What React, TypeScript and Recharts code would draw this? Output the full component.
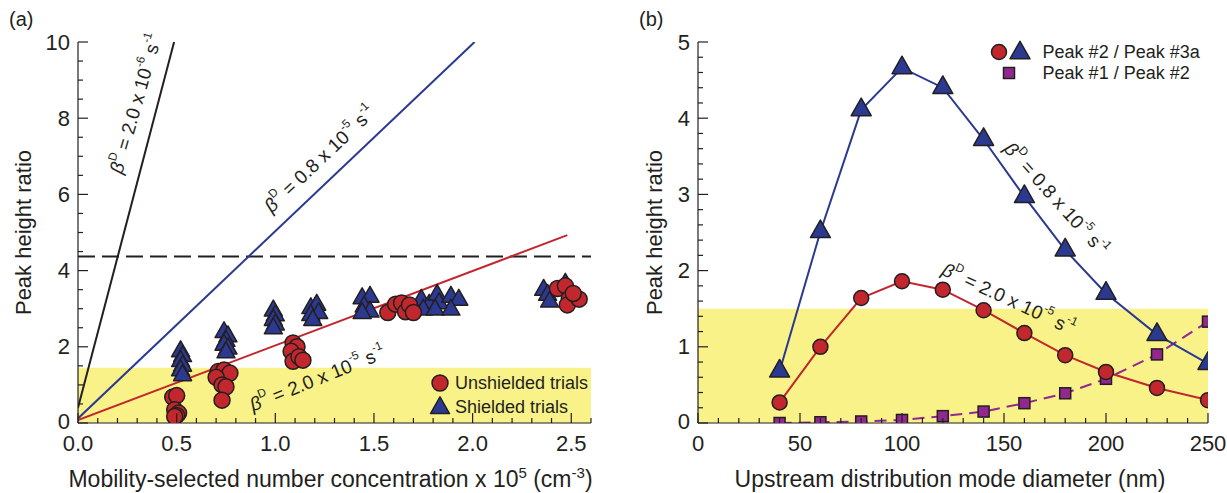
import React from 'react';
import {
  ComposedChart,
  Line,
  Scatter,
  XAxis,
  YAxis,
  ReferenceArea,
  ReferenceLine,
  ReferenceDot,
  Legend,
  Label,
} from 'recharts';

// ---------------- Panel (a) data ----------------
const unshieldedX = [
  0.48, 0.5, 0.49, 0.51, 0.5, 0.49,
  0.71, 0.74, 0.77, 0.7, 0.73, 0.75, 0.73,
  1.09, 1.11, 1.08, 1.09, 1.12, 1.14,
  1.57, 1.61, 1.64, 1.66, 1.68, 1.7,
  2.43, 2.47, 2.49, 2.48, 2.54, 2.51,
];
const unshieldedY = [
  0.68, 0.72, 0.35, 0.26, 0.2, 0.17,
  1.35, 1.39, 1.31, 1.2, 1.0, 0.95, 0.6,
  2.1, 2.0, 1.88, 1.62, 1.74, 1.65,
  2.9, 3.12, 3.15, 2.92, 3.1, 2.9,
  3.53, 3.6, 3.27, 3.1, 3.25, 3.4,
];
const shieldedX = [
  0.52, 0.53, 0.52, 0.53, 0.52, 0.53,
  0.74, 0.76, 0.75, 0.74, 0.76, 0.75,
  0.99, 1.0, 0.99, 1.0, 0.99,
  1.18, 1.21, 1.18, 1.22, 1.19,
  1.44, 1.48, 1.45, 1.48, 1.44,
  1.74, 1.78, 1.75, 1.82, 1.83, 1.81, 1.89, 1.93, 1.89,
  2.36, 2.38, 2.39, 2.47,
];
const shieldedY = [
  1.88, 1.75, 1.62, 1.5, 1.38, 1.25,
  2.38, 2.27, 2.15, 2.05, 1.95, 1.85,
  2.95, 2.82, 2.7, 2.58, 2.48,
  3.01, 3.1, 2.83, 2.88, 2.7,
  3.27, 3.31, 3.05, 2.92, 2.88,
  3.23, 3.1, 2.97, 3.36, 3.14, 2.97, 3.31, 3.23, 2.97,
  3.49, 3.36, 3.18, 3.65,
];
const beta2e6X = [0, 0.487];
const beta2e6Y = [0.4, 10];
const beta08e5X = [0, 2.01];
const beta08e5Y = [0.12, 10];
const beta2e5X = [0, 2.48];
const beta2e5Y = [0.08, 4.93];
const thresholdA = 4.37;
const bandTopA = 1.45;
const xMajorA = [0, 0.5, 1, 1.5, 2, 2.5];
const yMajorA = [0, 2, 4, 6, 8, 10];

// ---------------- Panel (b) data ----------------
const diameters = [40, 60, 80, 100, 120, 140, 160, 180, 200, 225, 250];
const ratioCircles = [0.27, 1.0, 1.64, 1.86, 1.75, 1.48, 1.18, 0.89, 0.67, 0.46, 0.3];
const ratioTriangles = [0.68, 2.51, 4.11, 4.66, 4.4, 3.72, 2.97, 2.27, 1.7, 1.16, 0.78];
const ratioSquares = [0.0, 0.01, 0.02, 0.04, 0.09, 0.15, 0.26, 0.39, 0.58, 0.9, 1.33];
const bandTopB = 1.5;
const xMajorB = [0, 50, 100, 150, 200, 250];
const yMajorB = [0, 1, 2, 3, 4, 5];

// ---------------- styles ----------------
const FONT = '"Liberation Sans", Arial, Helvetica, sans-serif';
const INK = '#231f20';
const RED = '#c1272d';
const BLUE = '#2b3990';
const PURPLE = '#92278f';
const YELLOW = '#f8f288';

const range = (start: number, end: number, step: number) => {
  const n = Math.round((end - start) / step);
  return Array.from({ length: n + 1 }, (_, i) => +(start + i * step).toFixed(4));
};

const toPts = (xs: number[], ys: number[]) => xs.map((x, i) => ({ x, y: ys[i] }));

const unshielded = toPts(unshieldedX, unshieldedY);
const shielded = toPts(shieldedX, shieldedY);
const line2e6 = toPts(beta2e6X, beta2e6Y);
const line08e5 = toPts(beta08e5X, beta08e5Y);
const line2e5 = toPts(beta2e5X, beta2e5Y);

const dataB = diameters.map((d, i) => ({
  d,
  circ: ratioCircles[i],
  tri: ratioTriangles[i],
  sq: ratioSquares[i],
}));

// ---------------- markers ----------------
const Circ = ({ cx, cy, r = 7.5 }: any) => (
  <circle cx={cx} cy={cy} r={r} fill={RED} stroke={INK} strokeWidth={1.5} />
);
const Tri = ({ cx, cy, w = 18 }: any) => {
  const h = w * 0.88;
  return (
    <polygon
      points={`${cx},${cy - (2 * h) / 3} ${cx + w / 2},${cy + h / 3} ${cx - w / 2},${cy + h / 3}`}
      fill={BLUE}
      stroke={INK}
      strokeWidth={1.5}
      strokeLinejoin="round"
    />
  );
};
const Sq = ({ cx, cy, s = 11 }: any) => (
  <rect x={cx - s / 2} y={cy - s / 2} width={s} height={s} fill={PURPLE} stroke={INK} strokeWidth={1.5} />
);

// ---------------- ticks ----------------
const isIn = (arr: number[], v: number) => arr.some((m) => Math.abs(m - v) < 1e-6);

const makeXTick = (majors: number[], fmt: (v: number) => string) => (props: any) => {
  const { x, y, payload, index } = props;
  const v = payload.value;
  const major = isIn(majors, v);
  return (
    <g key={`xt-${index}`}>
      <line x1={x} x2={x} y1={y} y2={y - (major ? 10 : 5)} stroke={INK} strokeWidth={1.2} />
      {major && (
        <text x={x} y={y + 28} textAnchor="middle" fontSize={22} fill={INK} fontFamily={FONT}>
          {fmt(v)}
        </text>
      )}
    </g>
  );
};

const makeYTick = (majors: number[], fmt: (v: number) => string) => (props: any) => {
  const { x, y, payload, index } = props;
  const v = payload.value;
  const major = isIn(majors, v);
  return (
    <g key={`yt-${index}`}>
      <line x1={x} x2={x + (major ? 10 : 5)} y1={y} y2={y} stroke={INK} strokeWidth={1.2} />
      {major && (
        <text
          x={x - 8}
          y={v === 0 ? y - 2 : y}
          textAnchor="end"
          dominantBaseline="central"
          fontSize={22}
          fill={INK}
          fontFamily={FONT}
        >
          {fmt(v)}
        </text>
      )}
    </g>
  );
};

// ---------------- annotation ----------------
const BetaText = ({ cx, cy, angle, coef, exp, size = 19 }: any) => {
  const sup = size * 0.62;
  const up = size * 0.42;
  return (
    <text
      x={cx}
      y={cy}
      transform={`rotate(${angle} ${cx} ${cy})`}
      textAnchor="middle"
      dominantBaseline="middle"
      fontSize={size}
      fill={INK}
      fontFamily={FONT}
    >
      <tspan fontStyle="italic">β</tspan>
      <tspan fontSize={sup} dy={-up}>D</tspan>
      <tspan dy={up}>{` = ${coef} x 10`}</tspan>
      <tspan fontSize={sup} dy={-up}>{exp}</tspan>
      <tspan dy={up}>{' s'}</tspan>
      <tspan fontSize={sup} dy={-up}>-1</tspan>
    </text>
  );
};

const annot = (angle: number, coef: string, exp: string) => (p: any) =>
  <BetaText cx={p.cx} cy={p.cy} angle={angle} coef={coef} exp={exp} />;

// ---------------- axis titles ----------------
const xTitleA = (props: any) => {
  const vb = props.viewBox || { x: 78, y: 423, width: 513 };
  const cx = vb.x + vb.width / 2 - 4;
  const y = vb.y + 64;
  return (
    <text x={cx} y={y} textAnchor="middle" fontSize={23} fill={INK} fontFamily={FONT}>
      <tspan>Mobility-selected number concentration x 10</tspan>
      <tspan fontSize={15} dy={-9}>5</tspan>
      <tspan dy={9}>{' (cm'}</tspan>
      <tspan fontSize={15} dy={-9}>-3</tspan>
      <tspan dy={9}>)</tspan>
    </text>
  );
};

const xTitleB = (props: any) => {
  const vb = props.viewBox || { x: 78, y: 423, width: 510 };
  const cx = vb.x + vb.width / 2 - 3;
  const y = vb.y + 64;
  return (
    <text x={cx} y={y} textAnchor="middle" fontSize={23} fill={INK} fontFamily={FONT}>
      Upstream distribution mode diameter (nm)
    </text>
  );
};

const makeYTitle = (gap: number) => (props: any) => {
  const vb = props.viewBox || { x: 8, y: 42, width: 70, height: 381 };
  const x = vb.x + vb.width - gap;
  const cy = vb.y + vb.height / 2;
  return (
    <text
      x={x}
      y={cy}
      transform={`rotate(-90 ${x} ${cy})`}
      textAnchor="middle"
      dominantBaseline="central"
      fontSize={22}
      fill={INK}
      fontFamily={FONT}
    >
      Peak height ratio
    </text>
  );
};

// ---------------- legends ----------------
const LegendA = () => (
  <svg width={180} height={54} style={{ overflow: 'visible', display: 'block' }}>
    <Circ cx={15} cy={15} r={8} />
    <text x={30} y={15} dominantBaseline="central" fontSize={18} fill={INK} fontFamily={FONT}>
      Unshielded trials
    </text>
    <Tri cx={15} cy={40} w={19} />
    <text x={30} y={39} dominantBaseline="central" fontSize={18} fill={INK} fontFamily={FONT}>
      Shielded trials
    </text>
  </svg>
);

const LegendB = () => (
  <svg width={240} height={50} style={{ overflow: 'visible', display: 'block' }}>
    <Circ cx={19} cy={16} r={7.5} />
    <Tri cx={40} cy={17} w={20} />
    <text x={62.6} y={16} dominantBaseline="central" fontSize={18} fill={INK} fontFamily={FONT}>
      Peak #2 / Peak #3a
    </text>
    <Sq cx={29} cy={37} s={11} />
    <text x={62.6} y={37} dominantBaseline="central" fontSize={18} fill={INK} fontFamily={FONT}>
      Peak #1 / Peak #2
    </text>
  </svg>
);

const axisLineStyle = { stroke: INK, strokeWidth: 1.2 };

export default function App() {
  return (
    <div
      style={{
        position: 'absolute',
        left: 0,
        top: 0,
        width: 1227,
        height: 493,
        background: '#ffffff',
        fontFamily: FONT,
        color: INK,
        overflow: 'hidden',
      }}
    >
      <div style={{ position: 'absolute', left: 9, top: 7, fontSize: 20, lineHeight: '24px' }}>(a)</div>
      <div style={{ position: 'absolute', left: 639, top: 7, fontSize: 20, lineHeight: '24px' }}>(b)</div>

      {/* Panel (a) */}
      <div style={{ position: 'absolute', left: 0, top: 0 }}>
        <ComposedChart width={606} height={493} margin={{ top: 42, right: 15, bottom: 10, left: 8 }}>
          <XAxis
            dataKey="x"
            type="number"
            domain={[0, 2.6]}
            ticks={range(0, 2.6, 0.1)}
            interval={0}
            tickSize={0}
            tickMargin={0}
            tickLine={false}
            tick={makeXTick(xMajorA, (v) => v.toFixed(1))}
            axisLine={axisLineStyle}
            height={60}
            allowDataOverflow
          >
            <Label content={xTitleA} />
          </XAxis>
          <YAxis
            type="number"
            domain={[0, 10]}
            ticks={range(0, 10, 0.5)}
            interval={0}
            tickSize={0}
            tickMargin={0}
            tickLine={false}
            tick={makeYTick(yMajorA, (v) => String(v))}
            axisLine={axisLineStyle}
            width={70}
            allowDataOverflow
          >
            <Label content={makeYTitle(55)} />
          </YAxis>
          <ReferenceArea x1={0} x2={2.6} y1={0} y2={bandTopA} fill={YELLOW} fillOpacity={1} stroke="none" />
          <ReferenceLine y={thresholdA} stroke={INK} strokeWidth={2} strokeDasharray="17 7" />
          <Line data={line2e6} dataKey="y" stroke={INK} strokeWidth={2} dot={false} isAnimationActive={false} legendType="none" />
          <Line data={line08e5} dataKey="y" stroke={BLUE} strokeWidth={2} dot={false} isAnimationActive={false} legendType="none" />
          <Line data={line2e5} dataKey="y" stroke={RED} strokeWidth={2} dot={false} isAnimationActive={false} legendType="none" />
          <Scatter
            data={shielded}
            dataKey="y"
            isAnimationActive={false}
            shape={(p: any) => <Tri cx={p.cx} cy={p.cy} w={18} />}
          />
          <Scatter
            data={unshielded}
            dataKey="y"
            isAnimationActive={false}
            shape={(p: any) => <Circ cx={p.cx} cy={p.cy} r={8} />}
          />
          <ReferenceDot x={0.3} y={8.37} r={0} shape={annot(-74, '2.0', '-6')} />
          <ReferenceDot x={1.23} y={6.9} r={0} shape={annot(-43.5, '0.8', '-5')} />
          <ReferenceDot x={1.216} y={1.13} r={0} shape={annot(-22, '2.0', '-5')} />
          <Legend
            layout="vertical"
            align="center"
            verticalAlign="middle"
            content={() => <LegendA />}
            wrapperStyle={{ position: 'absolute', left: 425, top: 368, width: 180, height: 54 }}
          />
        </ComposedChart>
      </div>

      {/* Panel (b) */}
      <div style={{ position: 'absolute', left: 620, top: 0 }}>
        <ComposedChart width={607} height={493} data={dataB} margin={{ top: 42, right: 19, bottom: 10, left: 8 }}>
          <XAxis
            dataKey="d"
            type="number"
            domain={[0, 250]}
            ticks={range(0, 250, 10)}
            interval={0}
            tickSize={0}
            tickMargin={0}
            tickLine={false}
            tick={makeXTick(xMajorB, (v) => String(v))}
            axisLine={axisLineStyle}
            height={60}
            allowDataOverflow
          >
            <Label content={xTitleB} />
          </XAxis>
          <YAxis
            type="number"
            domain={[0, 5]}
            ticks={range(0, 5, 0.2)}
            interval={0}
            tickSize={0}
            tickMargin={0}
            tickLine={false}
            tick={makeYTick(yMajorB, (v) => String(v))}
            axisLine={axisLineStyle}
            width={70}
            allowDataOverflow
          >
            <Label content={makeYTitle(44)} />
          </YAxis>
          <ReferenceArea x1={0} x2={250} y1={0} y2={bandTopB} fill={YELLOW} fillOpacity={1} stroke="none" />
          <Line
            dataKey="sq"
            stroke={PURPLE}
            strokeWidth={2}
            strokeDasharray="12 7"
            isAnimationActive={false}
            dot={(p: any) => <Sq key={`sq-${p.index}`} cx={p.cx} cy={p.cy} s={11} />}
          />
          <Line
            dataKey="tri"
            stroke={BLUE}
            strokeWidth={2}
            isAnimationActive={false}
            dot={(p: any) => <Tri key={`tr-${p.index}`} cx={p.cx} cy={p.cy} w={20} />}
          />
          <Line
            dataKey="circ"
            stroke={RED}
            strokeWidth={2}
            isAnimationActive={false}
            dot={(p: any) => <Circ key={`ci-${p.index}`} cx={p.cx} cy={p.cy} r={7.5} />}
          />
          <ReferenceDot x={175} y={2.93} r={0} shape={annot(48, '0.8', '-5')} />
          <ReferenceDot x={152} y={1.61} r={0} shape={annot(25, '2.0', '-5')} />
          <Legend
            layout="vertical"
            align="center"
            verticalAlign="middle"
            content={() => <LegendB />}
            wrapperStyle={{ position: 'absolute', left: 360, top: 36, width: 240, height: 50 }}
          />
        </ComposedChart>
      </div>
    </div>
  );
}
